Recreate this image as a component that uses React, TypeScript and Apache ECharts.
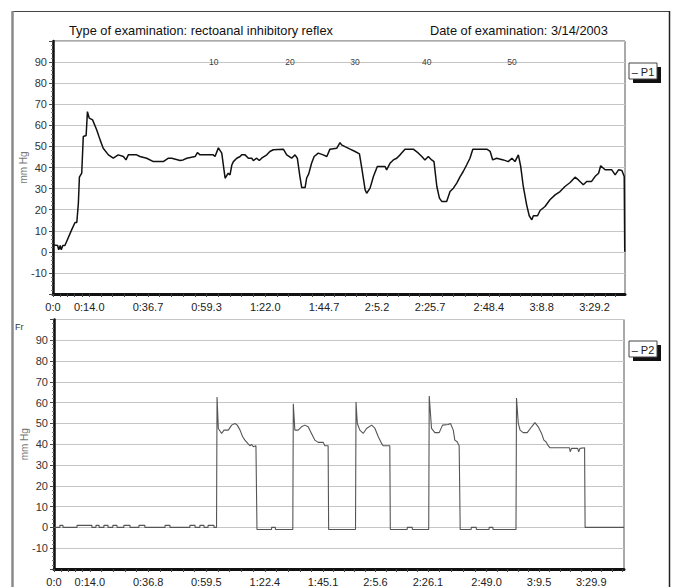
import React, { useEffect, useRef } from 'react';
import * as echarts from 'echarts';

const titleLeft = 'Type of examination: rectoanal inhibitory reflex';
const titleRight = 'Date of examination: 3/14/2003';

// P1 (top) – time in seconds, pressure in mm Hg
const p1Time = [0, 1.8, 2.2, 2.8, 3.2, 3.8, 4.6, 7.2, 8.5, 9.2, 9.8, 10.2, 11.1, 11.7, 12.8, 13.3, 14, 15.3, 16.9, 18.2, 19.4, 21.4, 23.3, 25.2, 27.2, 28.2, 29.1, 32.3, 33.6, 36.2, 38.8, 42.6, 44.6, 45.9, 49.1, 50.3, 51.7, 54.9, 55.8, 56.8, 61.9, 62.6, 63.9, 65.2, 66.5, 67.7, 68.4, 69.1, 69.7, 71, 72.3, 72.9, 74.2, 75.5, 76.8, 77.4, 78.7, 79.7, 80.6, 82.6, 83.8, 85.1, 89, 90.3, 92.2, 93.5, 94.4, 95.4, 96.1, 97.4, 98, 98.8, 99.9, 100.9, 102.5, 104.4, 105.8, 107, 109.6, 110.9, 111.5, 112.8, 114.8, 116.7, 118.4, 119.3, 120.6, 121.2, 122.5, 123.8, 125.3, 128.3, 128.9, 130.2, 131.5, 132.8, 134.1, 136, 139.2, 141.2, 142.5, 143.7, 145, 146.3, 147.2, 148.3, 149.3, 150.2, 152.1, 153.4, 154.7, 156, 157.3, 158.5, 159.8, 161.1, 162.2, 167.6, 168.9, 169.9, 171.4, 174, 175.9, 177.3, 178.5, 179.8, 180.7, 181.7, 183, 184, 185, 185.6, 187.2, 188.2, 190.1, 192, 194, 195.9, 197.8, 199.8, 201.7, 203, 204.9, 206.2, 208.1, 209.4, 210.8, 211.6, 213.3, 215.9, 217.2, 218.5, 219.8, 220.7, 220.9];
const p1Value = [3.3, 3, 1, 3, 1, 3, 3, 10.4, 13.9, 13.9, 23, 35.4, 37.3, 54.7, 55.2, 66.5, 63.4, 62.6, 57.8, 53.1, 49.1, 46, 44.4, 46, 45.2, 43.6, 46, 46, 45.2, 44.4, 42.8, 42.8, 44.4, 44.4, 43.3, 43.6, 44.4, 45.2, 47.1, 46, 46, 45.2, 49.3, 46.8, 34.9, 37.3, 36.5, 41.2, 42.8, 44.4, 45.2, 46, 46, 44.4, 44.4, 43.3, 44.4, 43.3, 44.4, 46, 47.6, 48.4, 48.7, 46, 44.4, 46, 44.4, 35.7, 30.5, 30.5, 35, 37, 42, 45.2, 46.8, 46, 45.2, 48.7, 49.1, 51.8, 50.7, 49.9, 48.7, 47.6, 46.5, 39.7, 29.4, 27.8, 30.2, 35.7, 40.5, 40.5, 38.9, 42, 43.6, 44.4, 46, 48.7, 48.7, 46.8, 45.2, 43.6, 45.2, 43.6, 42.8, 31, 25.5, 23.9, 23.9, 28.6, 30.2, 32.6, 35.7, 38.1, 41.2, 44.4, 48.7, 48.7, 47.6, 43.6, 44.4, 43.6, 42.8, 44.4, 42.8, 46, 40.5, 31, 22.3, 17.1, 15.2, 17.1, 17.1, 19.6, 21.5, 24.7, 27, 28.6, 31, 32.9, 35.4, 34.1, 31.8, 33.4, 33.4, 35.7, 37.3, 40.8, 38.9, 38.9, 36.5, 38.9, 38.6, 35.7, 0];

// P2 (bottom)
const p2Time = [0, 2.3, 2.3, 3.5, 3.5, 9, 9, 14.8, 14.8, 16.4, 16.4, 17.6, 17.6, 19.5, 19.5, 21.1, 21.1, 23, 23, 24.6, 24.6, 27.3, 27.3, 29.7, 29.7, 33.2, 33.2, 35.5, 35.5, 43.4, 43.4, 45.3, 45.3, 53.1, 53.1, 55.1, 55.1, 57, 57, 58.6, 58.6, 60.2, 60.2, 62.5, 62.5,
  63.5, 63.7, 64.2, 65.5, 66.4, 68.1, 69.4, 70.7, 71.6, 72.7, 73.7, 74.6, 75.7, 76.5, 77.2, 77.9, 78.9, 79.1, 79.3, 85, 85, 86.5, 86.5,
  93.3, 93.5, 94.1, 95.4, 96.7, 98, 99.3, 100.6, 101.9, 103.2, 105.2, 105.8, 107.1, 107.3,
  117.8, 118, 118.5, 119.5, 120.8, 122.1, 124.1, 125.4, 126.7, 128, 128.6, 131.2, 131.4, 138, 138, 140, 140,
  146.4, 146.6, 147.5, 148.8, 150.5, 151.8, 154, 154.9, 156, 156.6, 157.5, 158.3, 158.5, 158.7, 163, 163, 165, 165, 170, 170, 171.5, 171.5,
  180.5, 180.7, 181.4, 182.1, 183.3, 184.9, 186.6, 187.9, 189.2, 190.5, 191.4, 192.2, 193.1, 193.8, 201.4, 201.7, 202.2, 204.6, 205, 205.5, 207.3, 207.5, 222.7];
const p2Value = [0, 0, 1, 1, 0, 0, 1, 1, 0, 0, 1, 1, 0, 0, 1, 1, 0, 0, 1, 1, 0, 0, 1, 1, 0, 0, 1, 1, 0, 0, 1, 1, 0, 0, 1, 1, 0, 0, 1, 1, 0, 0, 1, 1, 0,
  0, 62.7, 47.6, 45.2, 46.8, 46.8, 49.2, 50, 49.2, 46.8, 43.6, 42, 40.4, 39.3, 39.9, 38.8, 39.3, 39.3, -1, -1, 0, 0, -1,
  -1, 59.5, 46.8, 46.8, 48.4, 49.2, 48.4, 45.2, 42, 40.9, 40.9, 39.3, 39.3, -1,
  -1, 60.3, 50, 46.8, 45.2, 47.6, 49.2, 47.6, 43.6, 40.4, 39.3, 39.3, -1, -1, 0, 0, -1,
  -1, 63.2, 47.6, 45.6, 45.6, 49.2, 49.5, 50, 46.8, 42, 41.2, 39.3, 39.3, -1, -1, 0, 0, -1, -1, 0, 0, -1,
  -1, 62.2, 50, 46.8, 45.6, 45.6, 48.4, 50.4, 48.4, 45.2, 42, 41.2, 39.3, 38.3, 38.3, 36.4, 38, 38, 36.4, 38, 38.3, 0, 0];

// event markers on the top chart (balloon volumes)
const markerTime = [62.1, 91.6, 116.7, 144.4, 177.3];
const markerLabel = ['10', '20', '30', '40', '50'];
const markerLevel = 90;

// axis ticks
const topTickValues = [0, 14, 36.7, 59.3, 82, 104.7, 125.2, 145.7, 168.4, 188.8, 209.2];
const topTickLabels = ['0:0', '0:14.0', '0:36.7', '0:59.3', '1:22.0', '1:44.7', '2:5.2', '2:25.7', '2:48.4', '3:8.8', '3:29.2'];
const bottomTickValues = [0, 14, 36.8, 59.5, 82.4, 105.1, 125.6, 146.1, 169.0, 189.5, 209.9];
const bottomTickLabels = ['0:0', '0:14.0', '0:36.8', '0:59.5', '1:22.4', '1:45.1', '2:5.6', '2:26.1', '2:49.0', '3:9.5', '3:29.9'];
const yMin = -20;
const yMax = 100;
const yStep = 10;

const FONT = 'Liberation Sans, Arial, Helvetica, sans-serif';

function subTicks(vals: number[], max: number) {
  const out: number[] = [];
  for (let i = 0; i < vals.length; i++) {
    const a = vals[i];
    const b = i + 1 < vals.length ? vals[i + 1] : a + (vals[i] - vals[i - 1]);
    for (let k = 0; k < 5; k++) {
      const v = a + ((b - a) * k) / 5;
      if (v <= max) out.push(v);
    }
  }
  return out;
}

function labelFor(vals: number[], labels: string[]) {
  return (v: number) => {
    let best = 0;
    for (let i = 1; i < vals.length; i++) if (Math.abs(vals[i] - v) < Math.abs(vals[best] - v)) best = i;
    return Math.abs(vals[best] - v) < 0.5 ? labels[best] : '';
  };
}

function makeX(gridIndex: number, max: number, vals: number[], labels: string[]) {
  return {
    gridIndex,
    type: 'value',
    min: 0,
    max,
    axisLine: { show: true, onZero: false, lineStyle: { color: '#111', width: 3 } },
    axisTick: { show: true, customValues: subTicks(vals, max), length: 3, lineStyle: { color: '#444', width: 1 } },
    axisLabel: {
      customValues: vals,
      formatter: labelFor(vals, labels),
      fontSize: 11,
      color: '#222',
      fontFamily: FONT,
      margin: 7,
    },
    splitLine: { show: false },
  };
}

function makeY(gridIndex: number) {
  return {
    gridIndex,
    type: 'value',
    min: yMin,
    max: yMax,
    interval: yStep,
    name: 'mm Hg',
    nameLocation: 'middle',
    nameGap: 25,
    nameMoveOverlap: false,
    nameRotate: 90,
    nameTextStyle: { color: '#777', fontSize: 10, fontFamily: FONT },
    axisLine: { show: true, onZero: false, lineStyle: { color: '#111', width: 2.5 } },
    axisTick: { show: true, length: 4, lineStyle: { color: '#444' } },
    minorTick: { show: true, splitNumber: 5, length: 2, lineStyle: { color: '#777' } },
    axisLabel: {
      formatter: (v: number) => (v === yMax || v === yMin ? '' : String(v)),
      fontSize: 11,
      color: '#333',
      fontFamily: FONT,
      margin: 6,
    },
    splitLine: { show: true, lineStyle: { color: '#c6c6c6', width: 1 } },
  };
}

function legendBox(x: number, y: number, label: string) {
  return [
    { type: 'rect', shape: { x: x + 4, y: y + 4, width: 28, height: 16 }, style: { fill: '#111' } },
    { type: 'rect', shape: { x, y, width: 28, height: 16 }, style: { fill: '#fff', stroke: '#444', lineWidth: 1 } },
    {
      type: 'text',
      x: x + 14,
      y: y + 8.5,
      style: { text: label, fill: '#222', fontSize: 11, fontFamily: FONT, align: 'center', verticalAlign: 'middle' },
    },
  ];
}

export default function App() {
  const ref = useRef<HTMLDivElement>(null);
  useEffect(() => {
    const chart = echarts.init(ref.current!, null, { renderer: 'svg' });
    const p1 = p1Time.map((t, i) => [t, p1Value[i]]);
    const p2 = p2Time.map((t, i) => [t, p2Value[i]]);
    const markers = markerTime.map((t, i) => ({ value: [t, markerLevel], name: markerLabel[i] }));
    chart.setOption({
      animation: false,
      backgroundColor: '#fff',
      grid: [
        { left: 53, top: 41, width: 572, height: 253, show: true, borderColor: '#555', borderWidth: 1 },
        { left: 54, top: 319.5, width: 570, height: 251, show: true, borderColor: '#555', borderWidth: 1 },
      ],
      xAxis: [makeX(0, 221, topTickValues, topTickLabels), makeX(1, 222.7, bottomTickValues, bottomTickLabels)],
      yAxis: [makeY(0), makeY(1)],
      series: [
        {
          type: 'line',
          name: 'P1',
          xAxisIndex: 0,
          yAxisIndex: 0,
          data: p1,
          showSymbol: false,
          symbol: 'none',
          lineStyle: { color: '#111', width: 1.5 },
          z: 3,
        },
        {
          type: 'scatter',
          xAxisIndex: 0,
          yAxisIndex: 0,
          data: markers,
          symbolSize: 1,
          itemStyle: { color: 'rgba(0,0,0,0)' },
          label: {
            show: true,
            position: 'inside',
            formatter: (p: any) => p.name,
            fontSize: 8.5,
            color: '#000',
            fontFamily: FONT,
          },
          z: 4,
        },
        {
          type: 'line',
          name: 'P2',
          xAxisIndex: 1,
          yAxisIndex: 1,
          data: p2,
          showSymbol: false,
          symbol: 'none',
          lineStyle: { color: '#555', width: 1.1 },
          z: 3,
        },
      ],
      graphic: [
        { type: 'line', shape: { x1: 12, y1: 11.5, x2: 670, y2: 11.5 }, style: { stroke: '#444', lineWidth: 1 } },
        { type: 'line', shape: { x1: 12.5, y1: 11, x2: 12.5, y2: 587 }, style: { stroke: '#8a8a8a', lineWidth: 2.5 } },
        { type: 'line', shape: { x1: 669.5, y1: 11, x2: 669.5, y2: 587 }, style: { stroke: '#222', lineWidth: 1.5 } },
        {
          type: 'text',
          x: 69,
          y: 30,
          style: { text: titleLeft, fill: '#111', fontSize: 12.8, fontFamily: FONT, align: 'left', verticalAlign: 'middle' },
        },
        {
          type: 'text',
          x: 430,
          y: 30,
          style: { text: titleRight, fill: '#111', fontSize: 12.8, fontFamily: FONT, align: 'left', verticalAlign: 'middle' },
        },
        {
          type: 'text',
          x: 15,
          y: 327,
          style: { text: 'Fr', fill: '#333', fontSize: 9, fontFamily: FONT, align: 'left', verticalAlign: 'middle' },
        },
        ...legendBox(629, 63, '– P1'),
        ...legendBox(629, 341, '– P2'),
      ],
    });
    return () => chart.dispose();
  }, []);
  return <div ref={ref} style={{ position: 'absolute', left: 0, top: 0, width: 675, height: 587 }} />;
}
